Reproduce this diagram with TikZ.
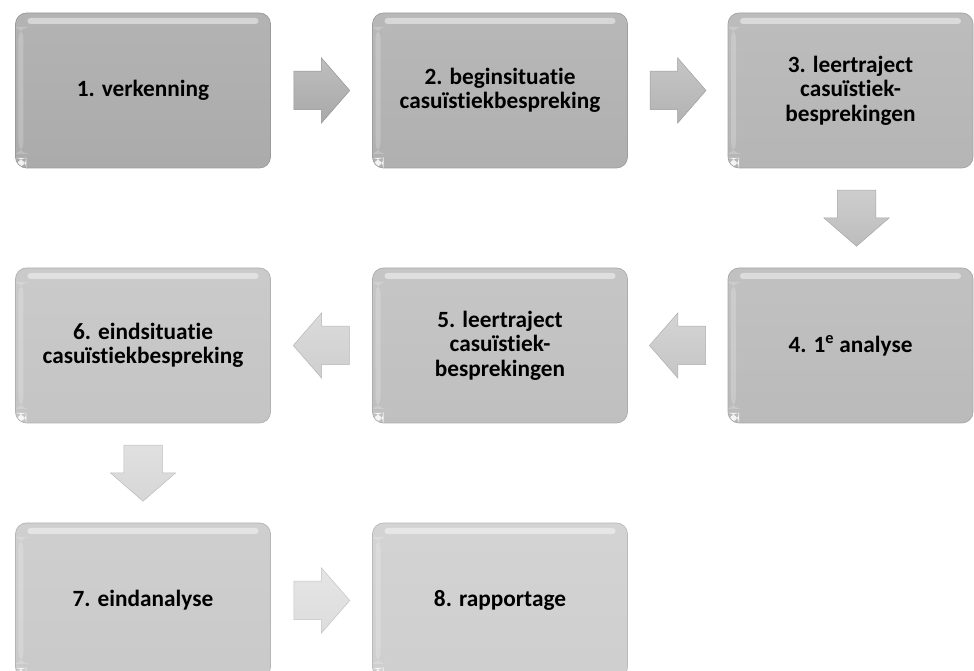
\documentclass[tikz,border=0pt]{standalone}
\usepackage{fontspec}
\setmainfont[Ligatures=NoCommon]{Carlito}
\usetikzlibrary{positioning,shapes.arrows,calc}

\definecolor{boxA}{gray}{0.67}
\definecolor{boxB}{gray}{0.69}
\definecolor{boxC}{gray}{0.71}
\definecolor{boxD}{gray}{0.73}
\definecolor{boxE}{gray}{0.75}
\definecolor{boxF}{gray}{0.77}
\definecolor{boxG}{gray}{0.79}
\definecolor{boxH}{gray}{0.81}

\tikzset{
  stepbox/.style={rectangle, rounded corners=11bp, minimum width=255bp, minimum height=155bp,
    inner sep=0pt, align=center, draw=#1!90!black, line width=0.7bp,
    top color=#1!90!white, bottom color=#1,
    font=\fontsize{23.3bp}{24.5bp}\selectfont\bfseries,
    path picture={
      \fill[white, opacity=0.45, rounded corners=3bp]
        ([xshift=12bp, yshift=-5bp]path picture bounding box.north west) rectangle
        ([xshift=-12bp, yshift=-11bp]path picture bounding box.north east);
      \fill[white, opacity=0.2]
        ([xshift=3bp, yshift=-14bp]path picture bounding box.north west) rectangle
        ([xshift=8bp, yshift=14bp]path picture bounding box.south west);
      \fill[white, opacity=0.85]
        (path picture bounding box.south west) rectangle
        ([xshift=11bp, yshift=10bp]path picture bounding box.south west);
    }},
  flow/.style={single arrow, single arrow head extend=13.5bp, single arrow tip angle=98,
    minimum height=56bp, minimum width=65bp, inner sep=19bp, anchor=tail,
    draw=#1!88!black, line width=0.5bp, top color=#1!75!white, bottom color=#1}
}

\begin{document}
\begin{tikzpicture}[x=1bp, y=1bp]

    \useasboundingbox (0,0) rectangle (974,671);

    \node[stepbox=boxA] (b1) at (143, 580.5) {1. verkenning};
    \node[stepbox=boxB] (b2) at (500, 580.5) {2. beginsituatie\\casuïstiekbespreking};
    \node[stepbox=boxC, minimum width=245bp] (b3) at (850.5, 580.5) {3. leertraject\\casuïstiek-\\besprekingen};
    \node[stepbox=boxD, minimum width=245bp] (b4) at (850.5, 325.5) {4. 1\textsuperscript{e} analyse};
    \node[stepbox=boxE] (b5) at (500, 325.5) {5. leertraject\\casuïstiek-\\besprekingen};
    \node[stepbox=boxF] (b6) at (143, 325.5) {6. eindsituatie\\casuïstiekbespreking};
    \node[stepbox=boxG] (b7) at (143, 70.5) {7. eindanalyse};
    \node[stepbox=boxH] (b8) at (500, 70.5) {8. rapportage};

    % arrows between the steps
    \node[flow=gray!68!white, xshift=-28bp] (a12) at ($(b1.east)!0.5!(b2.west)$) {};
    \node[flow=gray!60!white, xshift=-28bp] (a23) at ($(b2.east)!0.5!(b3.west)$) {};
    \node[flow=gray!52!white, shape border rotate=270, xshift=6bp, yshift=28bp] (a34) at ($(b3.south)!0.5!(b4.north)$) {};
    \node[flow=gray!45!white, shape border rotate=180, xshift=28bp] (a45) at ($(b4.west)!0.5!(b5.east)$) {};
    \node[flow=gray!38!white, shape border rotate=180, xshift=28bp] (a56) at ($(b5.west)!0.5!(b6.east)$) {};
    \node[flow=gray!32!white, shape border rotate=270, yshift=28bp] (a67) at ($(b6.south)!0.5!(b7.north)$) {};
    \node[flow=gray!27!white, xshift=-28bp] (a78) at ($(b7.east)!0.5!(b8.west)$) {};

  \end{tikzpicture}
\end{document}
